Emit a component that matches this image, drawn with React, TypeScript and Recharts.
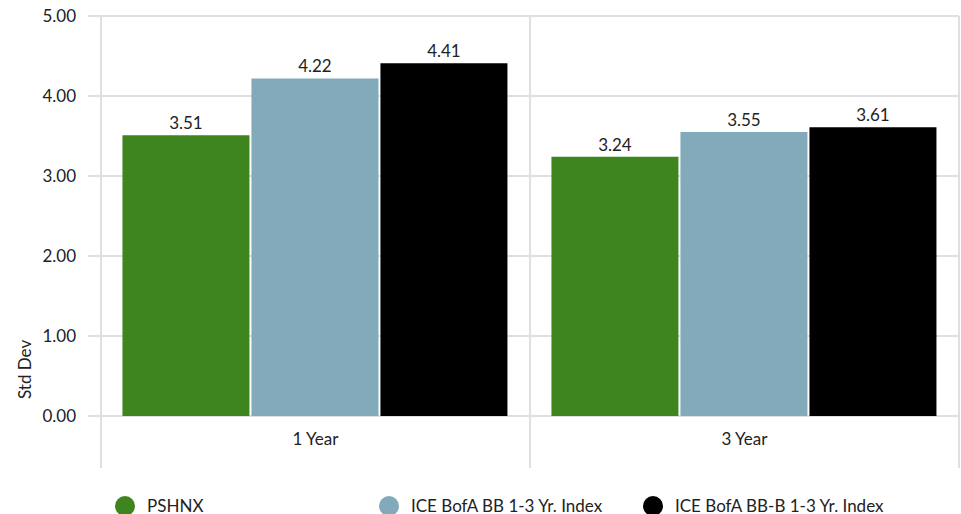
import { BarChart, Bar, XAxis, YAxis, CartesianGrid, Legend, LabelList } from "recharts";

const periods = ["1 Year", "3 Year"];
const fundValues = [3.51, 3.24];
const bbIndexValues = [4.22, 3.55];
const bbbIndexValues = [4.41, 3.61];
const yTicks = [0, 1, 2, 3, 4, 5];

const seriesList = [
  { key: "fund", name: "PSHNX", color: "#3e841f" },
  { key: "bb", name: "ICE BofA BB 1-3 Yr. Index", color: "#82aabb" },
  { key: "bbb", name: "ICE BofA BB-B 1-3 Yr. Index", color: "#000000" },
];

const data = periods.map((p, i) => ({
  period: p,
  fund: fundValues[i],
  bb: bbIndexValues[i],
  bbb: bbbIndexValues[i],
}));

const FONT = "Lato, 'Liberation Sans', sans-serif";
const GRID = "#e0e0e0";
const FS = 17;

// category tick: label plus the separators at band edges
const CategoryTick = (props: any) => {
  const { x, y, payload } = props;
  const half = payload.offset || 0;
  return (
    <g>
      <line x1={x - half} x2={x - half} y1={y} y2={y + 52} stroke={GRID} strokeWidth={2} />
      <line x1={x + half} x2={x + half} y1={y} y2={y + 52} stroke={GRID} strokeWidth={2} />
      <text x={x} y={y + 29} textAnchor="middle" fontSize={FS} fill="#222" fontFamily={FONT}>
        {payload.value}
      </text>
    </g>
  );
};

const LegendContent = () => (
  <div style={{ display: "flex", paddingLeft: 115, paddingTop: 29, fontFamily: FONT, fontSize: FS, color: "#222" }}>
    {seriesList.map((s) => (
      <div key={s.key} style={{ width: 264, display: "flex", alignItems: "center" }}>
        <span
          style={{ width: 20, height: 20, borderRadius: 10, background: s.color, display: "inline-block", marginRight: 12 }}
        />
        <span>{s.name}</span>
      </div>
    ))}
  </div>
);

export default function App() {
  return (
    <div style={{ width: 961, height: 514, overflow: "hidden" }}>
      <style>{"body{margin:0}"}</style>
      <BarChart
        width={961}
        height={514}
        data={data}
        margin={{ top: 16, right: 2, left: 0, bottom: 0 }}
        barCategoryGap="5%"
        barGap={2}
      >
        <CartesianGrid
          stroke={GRID}
          strokeWidth={2}
          verticalCoordinatesGenerator={({ offset }: any) => [
            offset.left,
            offset.left + offset.width / 2,
            offset.left + offset.width,
          ]}
        />
        <XAxis
          dataKey="period"
          axisLine={false}
          tickLine={false}
          tickSize={0}
          tickMargin={0}
          height={50}
          tick={<CategoryTick />}
        />
        <YAxis
          width={101}
          domain={[0, 5]}
          ticks={yTicks}
          axisLine={false}
          tickLine={{ stroke: GRID, strokeWidth: 2 }}
          tickSize={13}
          tickMargin={12}
          tickFormatter={(v: number) => v.toFixed(2)}
          tick={{ fontSize: FS, fill: "#222", fontFamily: FONT }}
          label={{
            value: "Std Dev",
            angle: -90,
            position: "insideLeft",
            dx: 20,
            dy: 183,
            style: { fontSize: FS, fill: "#222", fontFamily: FONT },
          }}
        />
        <Legend verticalAlign="bottom" height={48} content={<LegendContent />} />
        {seriesList.map((s) => (
          <Bar key={s.key} dataKey={s.key} name={s.name} fill={s.color} isAnimationActive={false}>
            <LabelList
              dataKey={s.key}
              position="top"
              offset={6}
              formatter={(v: any) => Number(v).toFixed(2)}
              style={{ fontSize: FS, fill: "#222", fontFamily: FONT }}
            />
          </Bar>
        ))}
      </BarChart>
    </div>
  );
}
